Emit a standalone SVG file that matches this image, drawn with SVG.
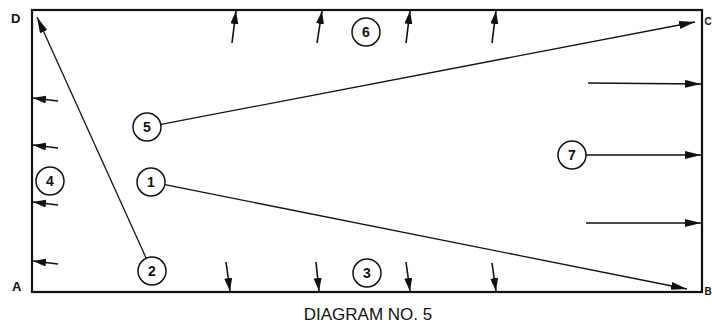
<svg xmlns="http://www.w3.org/2000/svg" width="712" height="324" viewBox="0 0 712 324">
<style>
.frame{fill:none;stroke:#111;stroke-width:2.2}
.c{fill:#fff;stroke:#111;stroke-width:1.5}
.n{font-family:"Liberation Sans",Arial,sans-serif;font-weight:bold;font-size:14px;fill:#111;text-anchor:middle}
.lbl{font-family:"Liberation Sans",Arial,sans-serif;font-weight:bold;font-size:13px;fill:#111}
.lr{font-family:"Liberation Sans",Arial,sans-serif;font-weight:bold;font-size:10px;fill:#111}
.title{font-family:"Liberation Sans",Arial,sans-serif;font-size:17px;fill:#111;text-anchor:middle}
.big{stroke:#111;stroke-width:1.3;fill:none;marker-end:url(#ah)}
.sm{stroke:#111;stroke-width:1.6;fill:none;marker-end:url(#ahs)}
</style>
<defs>
<marker id="ah" markerUnits="userSpaceOnUse" markerWidth="17" markerHeight="9" refX="16" refY="4" orient="auto">
<path d="M0,0 L16,4 L0,8 z" fill="#111"/>
</marker>
<marker id="ahs" markerUnits="userSpaceOnUse" markerWidth="14" markerHeight="9" refX="13" refY="4" orient="auto">
<path d="M0,0 L13,4 L0,8 z" fill="#111"/>
</marker>
</defs>
<rect class="frame" x="32" y="10" width="670" height="282"/>
<text class="lbl" x="11" y="23">D</text>
<text class="lbl" x="12" y="291">A</text>
<text class="lr" x="704.5" y="25">C</text>
<text class="lr" x="704.5" y="295">B</text>
<g id="connectors">
<line class="big" x1="146.2" y1="258.2" x2="37" y2="17"/>
<line class="big" x1="161" y1="124.4" x2="695" y2="22"/>
<line class="big" x1="164.7" y1="184.7" x2="687" y2="289"/>
<line class="sm" x1="58" y1="101" x2="33" y2="98"/>
<line class="sm" x1="58" y1="148" x2="33" y2="145"/>
<line class="sm" x1="58" y1="205" x2="33" y2="202"/>
<line class="sm" x1="58" y1="264" x2="33" y2="261"/>
<line class="sm" x1="232" y1="43" x2="236" y2="11"/>
<line class="sm" x1="317" y1="43" x2="322" y2="11"/>
<line class="sm" x1="406" y1="43" x2="410" y2="11"/>
<line class="sm" x1="492" y1="43" x2="496" y2="11"/>
<line class="sm" x1="226" y1="262" x2="230" y2="291"/>
<line class="sm" x1="316" y1="262" x2="319" y2="291"/>
<line class="sm" x1="406" y1="262" x2="410" y2="291"/>
<line class="sm" x1="492" y1="263" x2="496" y2="291"/>
<line class="big" x1="588" y1="83" x2="701" y2="84"/>
<line class="big" x1="586" y1="155" x2="701" y2="155"/>
<line class="big" x1="586" y1="223" x2="701" y2="223"/>
</g>
<g id="n1"><circle class="c" cx="151" cy="182" r="14"/><text class="n" x="151" y="187">1</text></g>
<g id="n2"><circle class="c" cx="152" cy="271" r="14"/><text class="n" x="152" y="276">2</text></g>
<g id="n3"><circle class="c" cx="367" cy="273" r="14"/><text class="n" x="367" y="278">3</text></g>
<g id="n4"><circle class="c" cx="50" cy="181" r="14"/><text class="n" x="50" y="186">4</text></g>
<g id="n5"><circle class="c" cx="147" cy="127" r="14"/><text class="n" x="147" y="132">5</text></g>
<g id="n6"><circle class="c" cx="366" cy="32" r="14"/><text class="n" x="366" y="37">6</text></g>
<g id="n7"><circle class="c" cx="572" cy="155" r="14"/><text class="n" x="572" y="160">7</text></g>
<text class="title" x="368" y="320">DIAGRAM NO. 5</text>
</svg>
